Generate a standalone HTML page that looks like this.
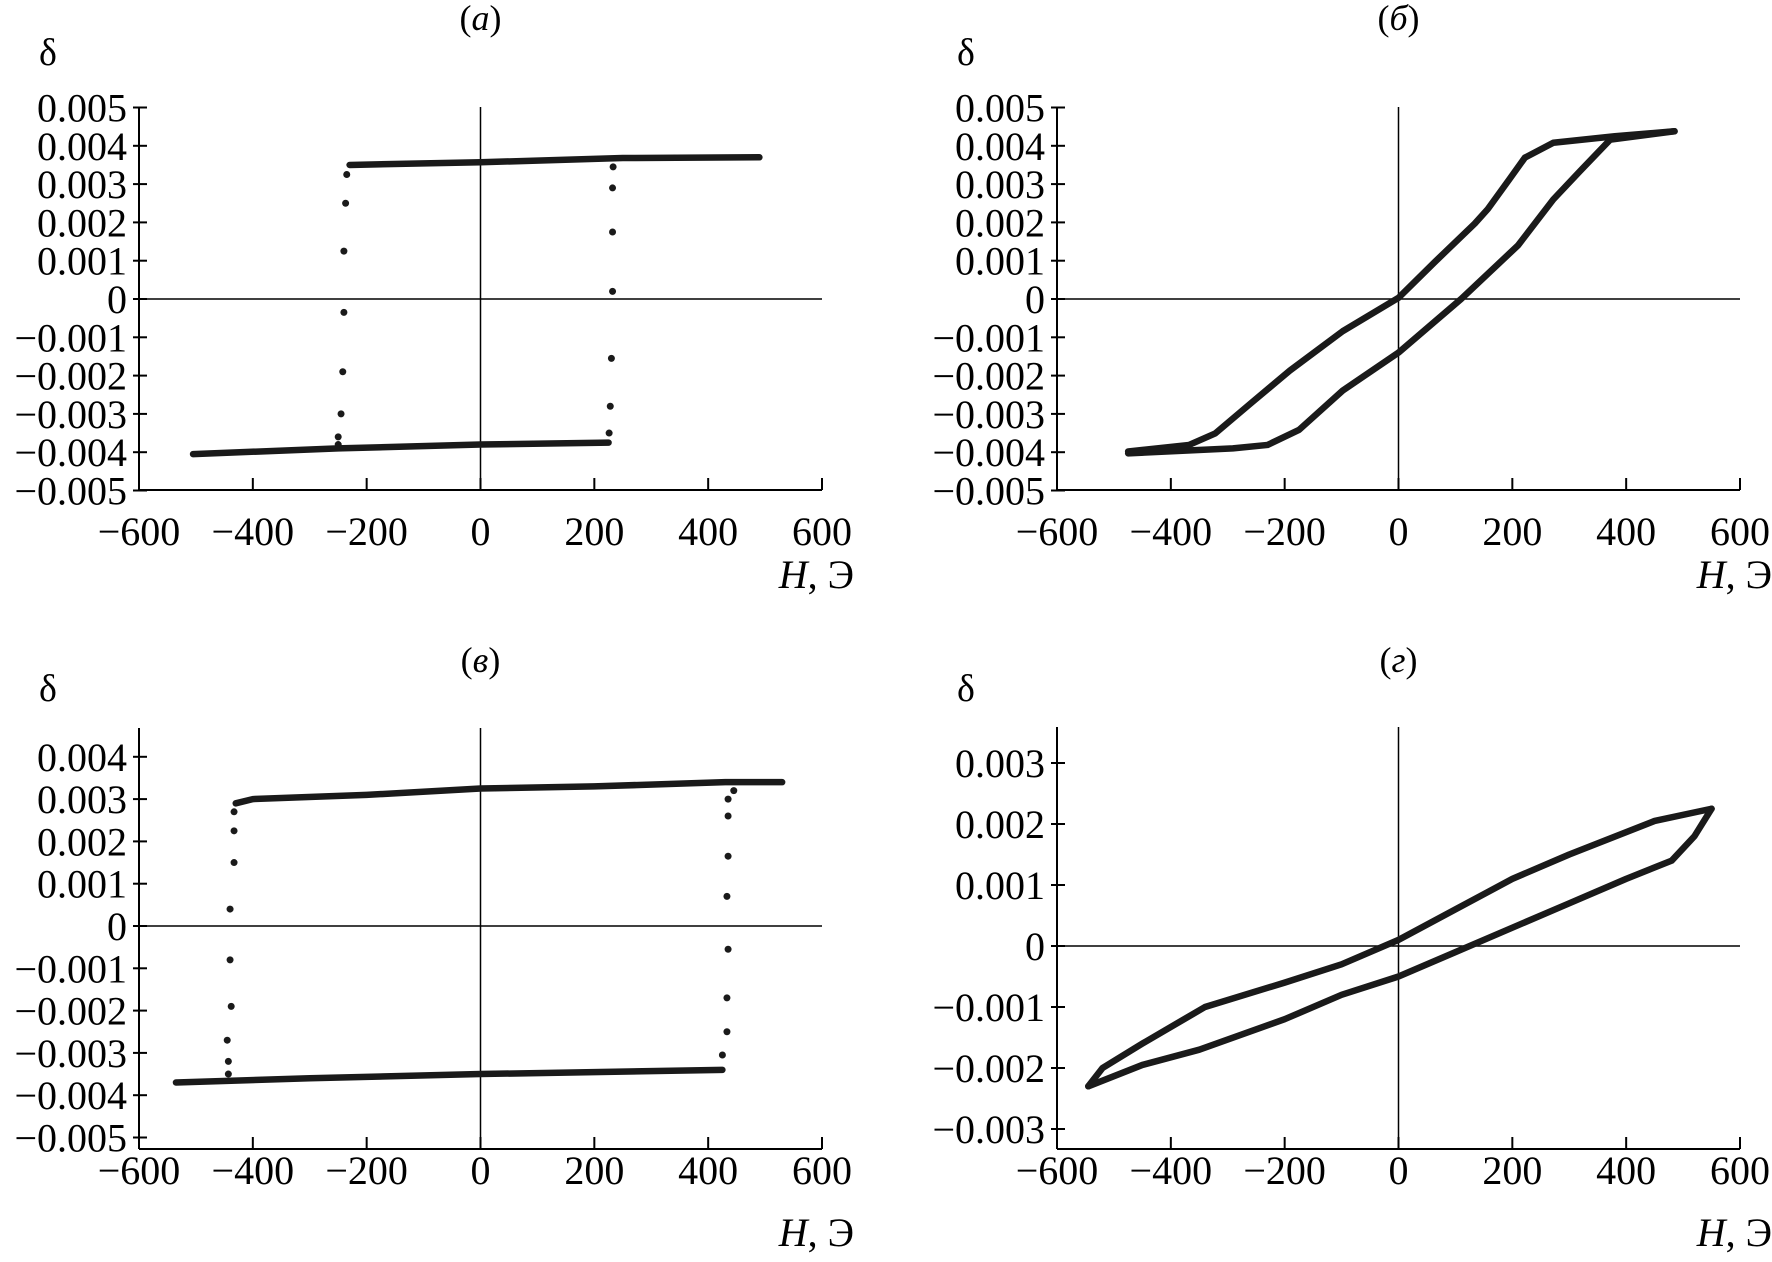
<!DOCTYPE html>
<html><head><meta charset="utf-8"><style>
html,body{margin:0;padding:0;background:#fff;}
svg{display:block;font-family:"Liberation Serif","DejaVu Serif",serif;}
</style></head><body>
<svg id="fig" width="1772" height="1262" viewBox="0 0 1772 1262" xmlns="http://www.w3.org/2000/svg"></svg>
<script>
// ---- data ----
const xTicks = [-600,-400,-200,0,200,400,600];
const yTicksA = ["0.005","0.004","0.003","0.002","0.001","0","−0.001","−0.002","−0.003","−0.004","−0.005"];
const yValsA = [0.005,0.004,0.003,0.002,0.001,0,-0.001,-0.002,-0.003,-0.004,-0.005];
const yTicksC = ["0.004","0.003","0.002","0.001","0","−0.001","−0.002","−0.003","−0.004","−0.005"];
const yValsC = [0.004,0.003,0.002,0.001,0,-0.001,-0.002,-0.003,-0.004,-0.005];
const yTicksD = ["0.003","0.002","0.001","0","−0.001","−0.002","−0.003"];
const yValsD = [0.003,0.002,0.001,0,-0.001,-0.002,-0.003];

const aUpperH = [-230,0,250,490];
const aUpperD = [0.0035,0.00357,0.00368,0.0037];
const aLowerH = [-505,-250,0,225];
const aLowerD = [-0.00405,-0.0039,-0.0038,-0.00375];
const aDotsLH = [-235,-237,-240,-240,-242,-245,-250,-250];
const aDotsLD = [0.00325,0.0025,0.00125,-0.00035,-0.0019,-0.003,-0.0036,-0.0038];
const aDotsRH = [233,232,232,232,230,228,226];
const aDotsRD = [0.00345,0.0029,0.00175,0.0002,-0.00155,-0.0028,-0.0035];

const bDescH = [485,380,272,222,195,157,134,64,0,-98,-191,-260,-322,-368,-475];
const bDescD = [0.00438,0.00425,0.00408,0.00369,0.00313,0.00235,0.00197,0.00097,0.00003,-0.00084,-0.00187,-0.00273,-0.00351,-0.00381,-0.00398];
const bAscH = [-475,-291,-230,-175,-98,0,110,210,272,319,372,485];
const bAscD = [-0.00403,-0.0039,-0.00381,-0.00342,-0.00239,-0.0014,0.0,0.0014,0.0026,0.00334,0.00416,0.00438];

const cUpperH = [-430,-400,-200,0,200,430,530];
const cUpperD = [0.0029,0.003,0.0031,0.00325,0.0033,0.0034,0.0034];
const cLowerH = [-535,-300,0,425];
const cLowerD = [-0.0037,-0.0036,-0.0035,-0.0034];
const cDotsLH = [-433,-433,-433,-440,-440,-438,-445,-443,-443];
const cDotsLD = [0.0027,0.00225,0.0015,0.0004,-0.0008,-0.0019,-0.0027,-0.0032,-0.0035];
const cDotsRH = [445,435,435,435,433,435,433,433,425];
const cDotsRD = [0.0032,0.003,0.0026,0.00165,0.0007,-0.00055,-0.0017,-0.0025,-0.00305];

const dDescH = [550,450,300,200,100,0,-100,-200,-340,-450,-520,-545];
const dDescD = [0.00225,0.00205,0.0015,0.0011,0.0006,0.0001,-0.0003,-0.0006,-0.001,-0.0016,-0.002,-0.0023];
const dAscH = [-545,-450,-350,-200,-100,0,100,200,300,400,480,520,550];
const dAscD = [-0.0023,-0.00195,-0.0017,-0.0012,-0.0008,-0.0005,-0.0001,0.0003,0.0007,0.0011,0.0014,0.0018,0.00225];

const NS="http://www.w3.org/2000/svg";
const svg=document.getElementById('fig');
function mk(tag,attrs,parent){const e=document.createElementNS(NS,tag);for(const k in attrs)e.setAttribute(k,attrs[k]);(parent||svg).appendChild(e);return e;}

function panel(cfg){
  const g=mk('g',{});
  
  
  const X=h=>cfg.x0+(h+600)/1200*(cfg.x1-cfg.x0);
  const Y=d=>cfg.yz-d*cfg.ppu;
  const ax=mk('g',{stroke:'#000','stroke-width':2,fill:'none'},g);
  
  
  mk('line',{x1:cfg.x0,y1:cfg.top,x2:cfg.x0,y2:cfg.bot},ax);
  mk('line',{x1:cfg.x0,y1:cfg.bot,x2:cfg.x1,y2:cfg.bot},ax);
  mk('line',{x1:X(0),y1:cfg.top,x2:X(0),y2:cfg.bot,'stroke-width':1.5},ax);
  mk('line',{x1:cfg.x0,y1:Y(0),x2:cfg.x1,y2:Y(0),'stroke-width':1.5},ax);
  xTicks.forEach(t=>{
    mk('line',{x1:X(t),y1:cfg.bot,x2:X(t),y2:cfg.bot-12},ax);
    const tx=mk('text',{x:X(t),y:cfg.labY,'font-size':40,'text-anchor':'middle',fill:'#000'},g);
    
    
    tx.textContent=(t<0?'−':'')+Math.abs(t);
  });
  cfg.yVals.forEach((v,i)=>{
    mk('line',{x1:cfg.x0-6,y1:Y(v),x2:cfg.x0+8,y2:Y(v)},ax);
    const tx=mk('text',{x:cfg.x0-12,y:Y(v)+14,'font-size':40,'text-anchor':'end',fill:'#000'},g);
    
    
    tx.textContent=cfg.yLabels[i];
  });
  const t=mk('text',{x:X(0),y:cfg.titleY,'font-size':36,'text-anchor':'middle'},g);
  
  
  t.innerHTML='(<tspan font-style="italic">'+cfg.title+'</tspan>)';
  const dl=mk('text',{x:cfg.x0-100,y:cfg.deltaY,'font-size':38},g);
  
  
  dl.textContent='δ';
  const xl=mk('text',{x:cfg.x1+32,y:cfg.hY,'font-size':40,'text-anchor':'end'},g);
  
  
  xl.innerHTML='<tspan font-style="italic">H</tspan>, Э';
  cfg.lines.forEach(([hs,ds,name])=>{
    const p=mk('polyline',{points:hs.map((h,i)=>X(h)+','+Y(ds[i])).join(' '),fill:'none',stroke:'#1a1a1a','stroke-width':6.5,'stroke-linejoin':'round','stroke-linecap':'round'},g);
    
    
  });
  (cfg.dots||[]).forEach(([hs,ds])=>{
    hs.forEach((h,i)=>{
      const c=mk('circle',{cx:X(h),cy:Y(ds[i]),r:3.5,fill:'#1a1a1a'},g);
      
      
    });
  });
}
panel({id:'a',title:'а',x0:139,x1:822,yz:299,ppu:38300,top:107,bot:490,labY:545,titleY:30,deltaY:65,hY:588,
  yVals:yValsA,yLabels:yTicksA,lines:[[aUpperH,aUpperD,'upper-branch'],[aLowerH,aLowerD,'lower-branch']],dots:[[aDotsLH,aDotsLD],[aDotsRH,aDotsRD]]});
panel({id:'b',title:'б',x0:1057,x1:1740,yz:299,ppu:38300,top:107,bot:490,labY:545,titleY:30,deltaY:65,hY:588,
  yVals:yValsA,yLabels:yTicksA,lines:[[bDescH,bDescD,'descending-branch'],[bAscH,bAscD,'ascending-branch']]});
panel({id:'c',title:'в',x0:139,x1:822,yz:926,ppu:42300,top:728,bot:1149,labY:1184,titleY:672,deltaY:701,hY:1246,
  yVals:yValsC,yLabels:yTicksC,lines:[[cUpperH,cUpperD,'upper-branch'],[cLowerH,cLowerD,'lower-branch']],dots:[[cDotsLH,cDotsLD],[cDotsRH,cDotsRD]]});
panel({id:'d',title:'г',x0:1057,x1:1740,yz:946,ppu:61000,top:727,bot:1149,labY:1184,titleY:672,deltaY:701,hY:1246,
  yVals:yValsD,yLabels:yTicksD,lines:[[dDescH,dDescD,'descending-branch'],[dAscH,dAscD,'ascending-branch']]});
</script>
</body></html>
